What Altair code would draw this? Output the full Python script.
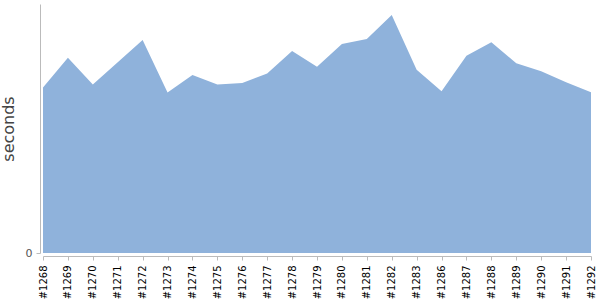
import altair as alt
import pandas as pd

builds = ["#1268", "#1269", "#1270", "#1271", "#1272", "#1273", "#1274", "#1275",
          "#1276", "#1277", "#1278", "#1279", "#1280", "#1281", "#1282", "#1283",
          "#1286", "#1287", "#1288", "#1289", "#1290", "#1291", "#1292"]
seconds = [166.2, 196.0, 169.2, 191.4, 213.8, 161.2, 178.6, 169.2,
           170.8, 180.3, 202.7, 186.9, 209.8, 214.8, 238.9, 184.1,
           162.5, 198.0, 211.5, 190.6, 182.6, 171.5, 161.5]

df = pd.DataFrame({"build": builds, "seconds": seconds})

chart = alt.Chart(df).mark_area(color="#8FB2DB", opacity=1).encode(
    x=alt.X("build:O", sort=None, title=None,
            scale=alt.Scale(type="point", padding=0),
            axis=alt.Axis(labelAngle=-90, labelFont="DejaVu Sans", labelFontSize=10,
                          labelColor="#000000", domainColor="#bbbbbb", tickColor="#bbbbbb",
                          tickSize=4, labelPadding=5, offset=3, grid=False)),
    y=alt.Y("seconds:Q", title="seconds",
            scale=alt.Scale(domain=[0, 250], nice=False),
            axis=alt.Axis(values=[0], grid=False, offset=3, domainColor="#bbbbbb",
                          tickColor="#bbbbbb", tickSize=4, labelFont="DejaVu Sans",
                          labelFontSize=11, labelColor="#555555", labelPadding=4,
                          titleFont="DejaVu Sans", titleFontSize=16, titleFontWeight="normal",
                          titleColor="#444444", titlePadding=9)),
).properties(
    width=548, height=249,
    autosize=alt.AutoSizeParams(type="none"),
    padding={"left": 43, "top": 4, "right": 9, "bottom": 47},
).configure_view(stroke=None)

chart.save("out.html", embed_options={"renderer": "svg", "actions": False})
